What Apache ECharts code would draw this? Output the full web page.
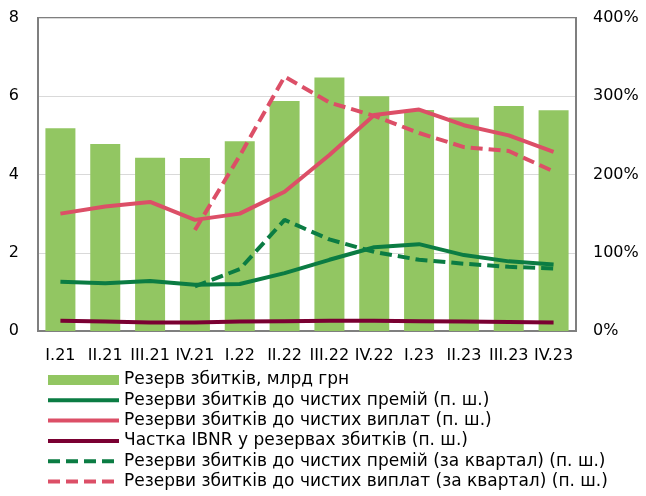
<!DOCTYPE html>
<html lang="uk" style="height: 100%">

<head>
  <meta charset="utf-8">
</head>

<body style="height: 100%; margin: 0">
  <div id="container" style="width: 646px; height: 496px"></div>

  <script type="text/javascript" src="https://cdn.jsdelivr.net/npm/echarts@6/dist/echarts.min.js"></script>

  <script type="text/javascript">
    var dom = document.getElementById('container');
    var myChart = echarts.init(dom, null, { renderer: 'canvas' });

    var categories = ['I.21', 'II.21', 'III.21', 'IV.21', 'I.22', 'II.22', 'III.22', 'IV.22', 'I.23', 'II.23', 'III.23', 'IV.23'];
    // млрд грн, ліва шкала
    var reserves = [5.18, 4.78, 4.43, 4.42, 4.85, 5.88, 6.48, 6.0, 5.65, 5.46, 5.75, 5.64];
    // %, права шкала
    var toPremiums = [63, 61, 64, 59, 60, 74, 91, 107, 111, 97, 89, 85];
    var toPayments = [150, 159, 165, 142, 150, 178, 225, 276, 283, 263, 250, 229];
    var ibnrShare = [13, 12, 11, 11, 12, 12.5, 13, 13, 12.5, 12, 11.5, 11];
    var toPremiumsQ = [null, null, null, 57, 79, 142, 117, 101, 91, 86, 82, 80];
    var toPaymentsQ = [null, null, null, 129, 224, 325, 292, 275, 253, 235, 230, 204];

    var names = [
      'Резерв збитків, млрд грн',
      'Резерви збитків до чистих премій (п. ш.)',
      'Резерви збитків до чистих виплат (п. ш.)',
      'Частка IBNR у резервах збитків (п. ш.)',
      'Резерви збитків до чистих премій (за квартал) (п. ш.)',
      'Резерви збитків до чистих виплат (за квартал) (п. ш.)'
    ];

    var font = '"DejaVu Sans", sans-serif';
    var green = '#0b7c43';
    var pink = '#dc4f67';
    var maroon = '#7a0032';

    function lineSeries(name, data, color, dashed) {
      return {
        name: name,
        type: 'line',
        yAxisIndex: 1,
        data: data,
        symbol: 'none',
        z: 3,
        lineStyle: {
          color: color,
          width: 4,
          type: dashed ? [12, 6] : 'solid'
        },
        itemStyle: { color: color }
      };
    }

    // the bar keeps a plain box icon, lines hide the little circle
    var legendData = names.map(function (n, i) {
      return i === 0 ? { name: n, icon: 'rect' } : { name: n, itemStyle: { opacity: 0 } };
    });

    var option = {
      animation: false,
      textStyle: { fontFamily: font },
      grid: {
        left: 38,
        right: 70,
        top: 18,
        bottom: 165,
        show: true,
        borderColor: '#7f7f7f',
        borderWidth: 2
      },
      legend: {
        orient: 'vertical',
        left: 46,
        top: 371,
        height: 125,
        padding: 0,
        itemWidth: 71,
        itemHeight: 10,
        itemGap: 2.3,
        lineStyle: { width: 4 },
        textStyle: { fontSize: 17, color: '#000', lineHeight: 18, fontFamily: font },
        data: legendData
      },
      xAxis: {
        type: 'category',
        data: categories,
        axisLine: { lineStyle: { color: '#7f7f7f', width: 2 } },
        axisTick: { inside: true, length: 5, lineStyle: { color: '#7f7f7f' } },
        axisLabel: { color: '#000', fontSize: 16, margin: 17, interval: 0 }
      },
      yAxis: [
        {
          type: 'value',
          min: 0,
          max: 8,
          interval: 2,
          axisLine: { show: true, lineStyle: { color: '#7f7f7f', width: 2 } },
          axisTick: { show: false },
          axisLabel: { color: '#000', fontSize: 16, margin: 19 },
          splitLine: { lineStyle: { color: '#d9d9d9', width: 1 } }
        },
        {
          type: 'value',
          min: 0,
          max: 400,
          interval: 100,
          axisLine: { show: true, lineStyle: { color: '#7f7f7f', width: 2 } },
          axisTick: { show: false },
          axisLabel: { color: '#000', fontSize: 16, margin: 17, formatter: '{value}%' },
          splitLine: { show: false }
        }
      ],
      series: [
        {
          name: names[0],
          type: 'bar',
          data: reserves,
          barWidth: 30,
          itemStyle: { color: '#92c662' },
          z: 2
        },
        lineSeries(names[1], toPremiums, green, false),
        lineSeries(names[2], toPayments, pink, false),
        lineSeries(names[3], ibnrShare, maroon, false),
        lineSeries(names[4], toPremiumsQ, green, true),
        lineSeries(names[5], toPaymentsQ, pink, true)
      ]
    };

    myChart.setOption(option);
    window.addEventListener('resize', myChart.resize);
  </script>
</body>

</html>
